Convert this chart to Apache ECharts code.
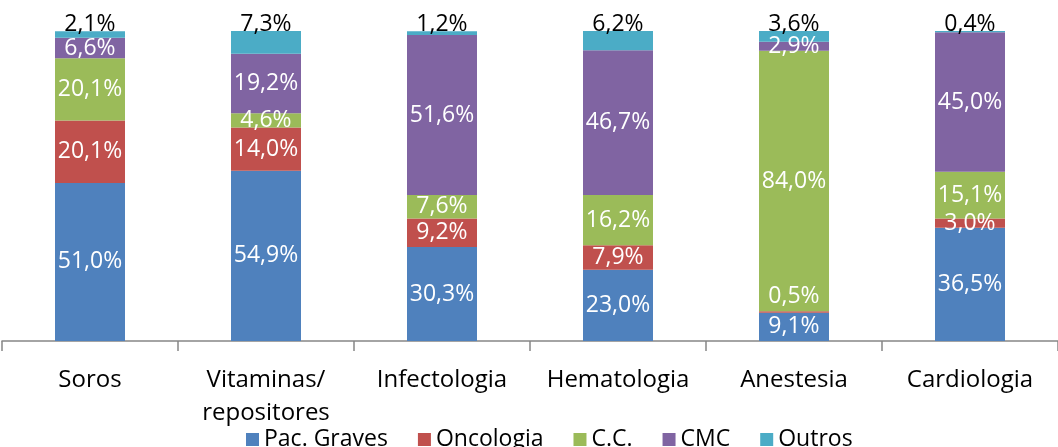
<!DOCTYPE html>
<html>
<head>
<meta charset="utf-8">
<script src="https://cdn.jsdelivr.net/npm/echarts@6/dist/echarts.min.js"></script>
<style>html,body{margin:0;padding:0;background:#fff}#c{width:1058px;height:447px}</style>
</head>
<body>
<div id="c"></div>
<script>
const categories = ['Soros', 'Vitaminas/\nrepositores', 'Infectologia', 'Hematologia', 'Anestesia', 'Cardiologia'];
const seriesNames = ['Pac. Graves', 'Oncologia', 'C.C.', 'CMC', 'Outros'];
const pacGraves = [51.0, 54.9, 30.3, 23.0, 9.1, 36.5];
const oncologia = [20.1, 14.0, 9.2, 7.9, 0.5, 3.0];
const cc = [20.1, 4.6, 7.6, 16.2, 84.0, 15.1];
const cmc = [6.6, 19.2, 51.6, 46.7, 2.9, 45.0];
const outros = [2.1, 7.3, 1.2, 6.2, 3.6, 0.4];
const colors = ['#4F81BD', '#C0504D', '#9BBB59', '#8064A2', '#4BACC6'];

const FONT = 'Open Sans';
const fmt = v => v.toFixed(1).replace('.', ',') + '%';
const allData = [pacGraves, oncologia, cc, cmc, outros];

const series = allData.map((arr, si) => {
  const isTop = si === 4;
  return {
    name: seriesNames[si],
    type: 'bar',
    stack: 'total',
    barWidth: 70,
    itemStyle: { color: colors[si] },
    data: arr.map((v, i) => {
      const d = { value: v };
      if (si === 1 && i === 4) {
        d.label = { position: 'top', distance: 3 };
      }
      return d;
    }),
    label: {
      show: true,
      position: isTop ? 'top' : 'inside',
      distance: isTop ? -5 : 5,
      color: isTop ? '#000' : '#fff',
      fontFamily: FONT,
      fontSize: 23,
      formatter: p => fmt(p.value)
    }
  };
});

const chart = echarts.init(document.getElementById('c'));
chart.setOption({
  animation: false,
  color: colors,
  grid: { left: 2, right: 0, top: 31, bottom: 106, containLabel: false },
  legend: {
    left: 241,
    top: 423,
    itemWidth: 13,
    itemHeight: 13,
    itemGap: 30,
    icon: 'rect',
    textStyle: { fontFamily: FONT, fontSize: 23, color: '#000' },
    data: seriesNames
  },
  xAxis: {
    type: 'category',
    data: categories,
    axisLine: { lineStyle: { color: '#868686', width: 1.5 } },
    axisTick: { show: true, length: 10, lineStyle: { color: '#868686', width: 1.5 } },
    axisLabel: { color: '#000', fontFamily: FONT, fontSize: 24, lineHeight: 33, margin: 23, interval: 0 }
  },
  yAxis: {
    type: 'value',
    min: 0,
    max: 100,
    show: false,
    splitLine: { show: false }
  },
  series: series
});
</script>
</body>
</html>
